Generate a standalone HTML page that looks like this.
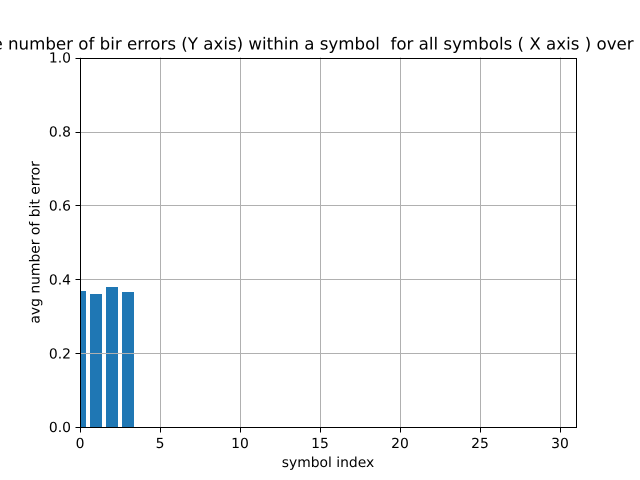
<!DOCTYPE html>
<html>
<head>
<meta charset="utf-8">
<style>
html,body{margin:0;padding:0;background:#fff;}
svg{display:block;}
text{font-family:"DejaVu Sans","Liberation Sans",sans-serif;fill:#000;white-space:pre;text-rendering:geometricPrecision;}
</style>
</head>
<body>
<svg id="chart" xmlns="http://www.w3.org/2000/svg" width="640" height="480" viewBox="0 0 640 480" xml:space="preserve">
<text x="-65.7" y="49.5" font-size="16.67px" xml:space="preserve">Average number of bir errors (Y axis) within a symbol  for all symbols ( X axis ) over all runs</text>
<text x="328" y="467" font-size="13.89px" text-anchor="middle">symbol index</text>
<text transform="translate(39.5,242.4) rotate(-90)" font-size="13.89px" text-anchor="middle">avg number of bit error</text>
</svg>
<script>
const categories = [0, 1, 2, 3];
const seriesValues = [0.3685, 0.36, 0.379, 0.366];
const xTickLabels = [0, 5, 10, 15, 20, 25, 30];
const yTickLabels = ['0.0', '0.2', '0.4', '0.6', '0.8', '1.0'];
const xDomain = [0, 31];
const yDomain = [0, 1];
const barWidth = 0.8;

const svg = document.getElementById('chart');
const NS = 'http://www.w3.org/2000/svg';
const plot = {left: 80, right: 576, top: 57.6, bottom: 427.2};
function xScale(v) { return plot.left + (v - xDomain[0]) / (xDomain[1] - xDomain[0]) * (plot.right - plot.left); }
function yScale(v) { return plot.bottom - (v - yDomain[0]) / (yDomain[1] - yDomain[0]) * (plot.bottom - plot.top); }
function snap(p) { return Math.floor(p + 0.5) + 0.5; }
function make(tag, attrs) {
  const el = document.createElementNS(NS, tag);
  for (const k in attrs) el.setAttribute(k, attrs[k]);
  return el;
}

// bars, clipped to the axes
const defs = make('defs', {});
const clip = make('clipPath', {id: 'plot-clip'});
clip.appendChild(make('rect', {x: plot.left, y: plot.top, width: plot.right - plot.left, height: plot.bottom - plot.top}));
defs.appendChild(clip);
svg.appendChild(defs);
const barGroup = make('g', {'clip-path': 'url(#plot-clip)'});


svg.appendChild(barGroup);
categories.forEach(function (c, i) {
  const x0 = Math.round(xScale(c - barWidth / 2));
  const x1 = Math.round(xScale(c + barWidth / 2));
  const y0 = Math.round(yScale(seriesValues[i]));
  const y1 = Math.round(yScale(0));
  const bar = make('rect', {x: x0, y: y0, width: x1 - x0, height: y1 - y0, fill: '#1f77b4', 'shape-rendering': 'crispEdges'});
  
  
  barGroup.appendChild(bar);
});

// vertical grid, ticks and labels
xTickLabels.forEach(function (t) {
  const px = snap(xScale(t));
  const grid = make('line', {x1: px, x2: px, y1: plot.top, y2: plot.bottom, stroke: '#b0b0b0', 'stroke-width': 1, 'shape-rendering': 'crispEdges'});
  
  
  svg.appendChild(grid);
  const tick = make('line', {x1: px, x2: px, y1: snap(plot.bottom), y2: snap(plot.bottom) + 5, stroke: '#000', 'stroke-width': 1, 'shape-rendering': 'crispEdges'});
  
  
  svg.appendChild(tick);
  const label = make('text', {x: xScale(t), y: 448, 'font-size': '13.89px', 'text-anchor': 'middle'});
  
  
  label.textContent = t;
  svg.appendChild(label);
});

// horizontal grid, ticks and labels
yTickLabels.forEach(function (t) {
  const py = snap(yScale(parseFloat(t)));
  const grid = make('line', {x1: plot.left, x2: plot.right, y1: py, y2: py, stroke: '#b0b0b0', 'stroke-width': 1, 'shape-rendering': 'crispEdges'});
  
  
  svg.appendChild(grid);
  const tick = make('line', {x1: snap(plot.left) - 5, x2: snap(plot.left), y1: py, y2: py, stroke: '#000', 'stroke-width': 1, 'shape-rendering': 'crispEdges'});
  
  
  svg.appendChild(tick);
  const label = make('text', {x: 71, y: yScale(parseFloat(t)) + 5, 'font-size': '13.89px', 'text-anchor': 'end'});
  
  
  label.textContent = t;
  svg.appendChild(label);
});

// axes frame
const frame = make('rect', {x: snap(plot.left), y: snap(plot.top), width: snap(plot.right) - snap(plot.left), height: snap(plot.bottom) - snap(plot.top), fill: 'none', stroke: '#000', 'stroke-width': 1, 'shape-rendering': 'crispEdges'});


svg.appendChild(frame);
</script>
</body>
</html>
